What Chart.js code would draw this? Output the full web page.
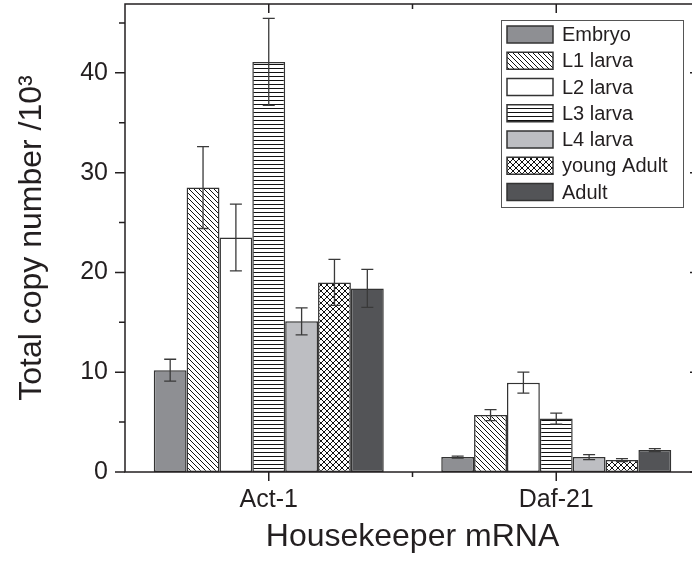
<!DOCTYPE html>
<html>
<head>
<meta charset="utf-8">
<script src="https://cdn.jsdelivr.net/npm/chart.js@4/dist/chart.umd.min.js"></script>
<style>
  html, body { margin: 0; padding: 0; background: #fff; overflow: hidden; }
  body { width: 692px; height: 561px; }
  canvas { display: block; }
</style>
</head>
<body>
<canvas id="chart" width="700" height="561"></canvas>
<script>
// Copy numbers per housekeeper gene and developmental stage (x10^3)
const categories = ["Act-1", "Daf-21"];
const stages = ["Embryo", "L1 larva", "L2 larva", "L3 larva", "L4 larva", "young Adult", "Adult"];
const act1Values = [10.2, 28.5, 23.5, 41.1, 15.1, 19.0, 18.4];
const act1Errors = [1.1, 4.1, 3.35, 4.35, 1.35, 2.3, 1.9];
const daf21Values = [1.5, 5.7, 8.95, 5.35, 1.5, 1.2, 2.2];
const daf21Errors = [0.1, 0.55, 1.05, 0.55, 0.25, 0.15, 0.15];
const yTicks = [0, 10, 20, 30, 40];
const yMinorTicks = [5, 15, 25, 35, 45];
const yMax = 46.9;

const INK = "#231f20";
const FONT = "'Liberation Sans', Arial, sans-serif";

function makePattern(kind) {
  const c = document.createElement("canvas");
  const s = kind === "cross" ? 6 : kind === "diag" ? 5 : 4;
  c.width = s; c.height = s;
  const g = c.getContext("2d");
  g.fillStyle = "#fff";
  g.fillRect(0, 0, s, s);
  g.strokeStyle = "#111";
  g.lineWidth = 1;
  g.beginPath();
  if (kind === "horiz") {
    g.moveTo(0, 0.5); g.lineTo(s, 0.5);
  } else {
    // "\" lines
    g.moveTo(-1, -1); g.lineTo(s + 1, s + 1);
    g.moveTo(-1, s - 1); g.lineTo(1, s + 1);
    g.moveTo(s - 1, -1); g.lineTo(s + 1, 1);
    if (kind === "cross") {
      g.moveTo(-1, s + 1); g.lineTo(s + 1, -1);
      g.moveTo(-1, 1); g.lineTo(1, -1);
      g.moveTo(s - 1, s + 1); g.lineTo(s + 1, s - 1);
    }
  }
  g.stroke();
  return g.createPattern(c, "repeat");
}

const fills = [
  "#8e8f93",
  makePattern("diag"),
  "#ffffff",
  makePattern("horiz"),
  "#bdbec2",
  makePattern("cross"),
  "#535457",
];

const datasets = stages.map((name, i) => ({
  label: name,
  data: [act1Values[i], daf21Values[i]],
  errors: [act1Errors[i], daf21Errors[i]],
  backgroundColor: fills[i],
  borderColor: "#333",
  borderWidth: 1.5,
  borderSkipped: false,
}));

// error bars with caps, drawn through the y scale
const errorBars = {
  id: "errorBars",
  afterDatasetsDraw(chart) {
    const { ctx, scales: { y } } = chart;
    ctx.save();
    ctx.strokeStyle = "#3a3a3a";
    ctx.lineWidth = 1.3;
    chart.data.datasets.forEach((ds, di) => {
      chart.getDatasetMeta(di).data.forEach((bar, j) => {
        const v = ds.data[j], e = ds.errors[j];
        const top = y.getPixelForValue(v + e);
        const bot = y.getPixelForValue(v - e);
        const x = bar.x;
        ctx.beginPath();
        ctx.moveTo(x, top); ctx.lineTo(x, bot);
        ctx.moveTo(x - 6, top); ctx.lineTo(x + 6, top);
        ctx.moveTo(x - 6, bot); ctx.lineTo(x + 6, bot);
        ctx.stroke();
      });
    });
    ctx.restore();
  },
};

// box frame with Origin-style tick marks on all four sides
const frame = {
  id: "frame",
  afterDraw(chart) {
    const { ctx, chartArea: a, scales: { x, y } } = chart;
    ctx.save();
    ctx.strokeStyle = INK;
    ctx.lineWidth = 1.5;
    ctx.strokeRect(a.left, a.top, a.right - a.left, a.bottom - a.top);
    ctx.beginPath();
    const yt = (v, len) => {
      const p = y.getPixelForValue(v);
      ctx.moveTo(a.left - len, p); ctx.lineTo(a.left, p);
      ctx.moveTo(a.right, p); ctx.lineTo(a.right - len, p);
    };
    yTicks.forEach(v => yt(v, 10));
    yMinorTicks.forEach(v => yt(v, 6));
    const xt = (v, len) => {
      const p = x.getPixelForValue(v);
      ctx.moveTo(p, a.bottom); ctx.lineTo(p, a.bottom + len);
      ctx.moveTo(p, a.top); ctx.lineTo(p, a.top + len);
    };
    categories.forEach((c, i) => xt(i, 9));
    xt(0.5, 5);
    ctx.stroke();
    ctx.restore();
  },
};

// legend box inside the plot, upper right
const insetLegend = {
  id: "insetLegend",
  afterDraw(chart) {
    const { ctx } = chart;
    const bx = 501, by = 20, bw = 182, bh = 187;
    ctx.save();
    ctx.fillStyle = "#fff";
    ctx.fillRect(bx, by, bw, bh);
    ctx.strokeStyle = "#555";
    ctx.lineWidth = 1;
    ctx.strokeRect(bx + 0.5, by + 0.5, bw, bh);
    ctx.font = "20px " + FONT;
    ctx.textBaseline = "middle";
    chart.data.datasets.forEach((ds, i) => {
      const cy = 34.5 + i * 26.25;
      ctx.fillStyle = ds.backgroundColor;
      ctx.fillRect(507, cy - 8.5, 46, 17);
      ctx.strokeStyle = "#333";
      ctx.lineWidth = 1.5;
      ctx.strokeRect(507, cy - 8.5, 46, 17);
      ctx.fillStyle = INK;
      ctx.fillText(ds.label, 562, cy + 1);
    });
    ctx.restore();
  },
};

new Chart(document.getElementById("chart"), {
  type: "bar",
  data: { labels: categories, datasets },
  plugins: [errorBars, frame, insetLegend],
  options: {
    responsive: false,
    animation: false,
    layout: { padding: { top: 4, right: 0, left: 0, bottom: 0 } },
    datasets: { bar: { categoryPercentage: 0.8, barPercentage: 1.0 } },
    plugins: { legend: { display: false }, tooltip: { enabled: false } },
    scales: {
      x: {
        grid: { display: false, drawTicks: false },
        border: { display: false },
        ticks: { color: INK, font: { family: FONT, size: 25 }, padding: 13 },
        title: {
          display: true,
          text: "Housekeeper mRNA",
          color: INK,
          font: { family: FONT, size: 32 },
          padding: { top: 0, bottom: 5 },
        },
        afterFit(s) { s.height = 89; s.paddingLeft = 0; s.paddingRight = 0; },
      },
      y: {
        min: 0,
        max: yMax,
        grid: { display: false, drawTicks: false },
        border: { display: false },
        ticks: { color: INK, font: { family: FONT, size: 25 }, padding: 17 },
        afterBuildTicks(s) { s.ticks = yTicks.map(v => ({ value: v })); },
        title: {
          display: true,
          text: "Total copy number /10³",
          color: INK,
          font: { family: FONT, size: 32 },
          padding: { top: 13, bottom: 0 },
        },
        afterFit(s) { s.width = 125; s.paddingTop = 0; s.paddingBottom = 0; },
      },
    },
  },
});
</script>
</body>
</html>
